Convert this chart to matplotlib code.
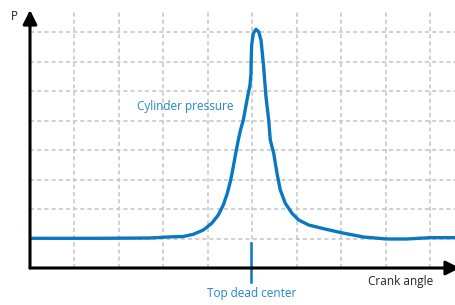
import matplotlib
matplotlib.use("Agg")
import matplotlib.pyplot as plt

# crank angle (grid units) and cylinder pressure (grid units)
crank = [0.000, 1.575, 2.700, 3.150, 3.450, 3.675, 3.900, 4.089, 4.237, 4.350,
         4.440, 4.516, 4.575, 4.629, 4.687, 4.737, 4.800, 4.890, 4.950, 4.973,
         4.977, 4.988, 5.025, 5.085, 5.146, 5.198, 5.254, 5.310, 5.371, 5.407,
         5.484, 5.558, 5.632, 5.745, 5.896, 6.046, 6.271, 6.571, 7.003, 7.500,
         8.026, 8.476, 9.001, 9.586]
pressure = [1.008, 1.008, 1.019, 1.056, 1.070, 1.144, 1.290, 1.518, 1.800, 2.139,
            2.537, 2.988, 3.440, 3.895, 4.346, 4.686, 5.025, 5.762, 6.214, 6.611,
            7.063, 7.572, 7.969, 8.105, 8.024, 7.742, 6.893, 5.817, 5.025, 4.346,
            3.895, 3.216, 2.649, 2.197, 1.857, 1.630, 1.460, 1.348, 1.199, 1.053,
            0.985, 0.985, 1.029, 1.029]
tdc = 4.98
x_grid = list(range(1, 10))
y_grid = list(range(1, 9))

blue = "#0a78c0"
text_blue = "#1e88cc"
plt.rcParams['font.family'] = ['Open Sans', 'DejaVu Sans']

fig = plt.figure(figsize=(4.56, 3.05), dpi=100)
ax = fig.add_axes([30 / 456, 37 / 305, 426 / 456, 258 / 305])
ax.set_xlim(0, 426 / 44.44)
ax.set_ylim(0, 258 / 29.45)

ax.set_xticks(x_grid)
ax.set_yticks(y_grid)
ax.tick_params(length=0, labelbottom=False, labelleft=False)
ax.grid(True, color="#c4c4c4", lw=1.1, linestyle=(0, (2.7, 2.0)))
for s in ax.spines.values():
    s.set_visible(False)

ax.plot(crank, pressure, color=blue, lw=2.4, solid_joinstyle="round",
        solid_capstyle="round", zorder=3)

# axes with arrow heads
arrow = dict(arrowstyle="-|>,head_length=0.6,head_width=0.3", lw=2.2,
             color="black", mutation_scale=14, shrinkA=0, shrinkB=0)
ax.annotate("", xy=(0, 258 / 29.45), xytext=(0, 0), arrowprops=arrow,
            annotation_clip=False, zorder=4)
ax.annotate("", xy=(430 / 44.44, 0), xytext=(0, 0), arrowprops=arrow,
            annotation_clip=False, zorder=4)

# top dead center marker
ax.plot([tdc, tdc], [0.85, -0.48], color=blue, lw=1.8, clip_on=False, zorder=3)

ax.text(tdc, -0.85, "Top dead center", color=text_blue, fontsize=8.5,
        ha="center", va="center")
ax.text(8.33, -0.47, "Crank angle", color="#222222", fontsize=8.5,
        ha="center", va="center")
ax.text(3.49, 5.47, "Cylinder pressure", color=text_blue, fontsize=8.5,
        ha="center", va="center")
fig.text(14 / 456, 1 - 16 / 305, "P", color="#222222", fontsize=8.5,
         ha="center", va="center")

fig.savefig("out.png", dpi=100)
